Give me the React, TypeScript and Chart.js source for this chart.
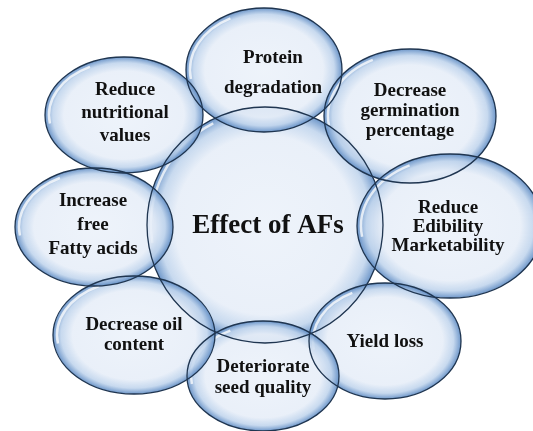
import React, { useEffect, useRef } from "react";
import { Chart, registerables } from "chart.js";

Chart.register(...registerables);

// Diagram data (in chart units: 0..533 horizontally, 0..431 vertically, top-down)
const labels = [
  "Effect of AFs",
  "Protein\ndegradation",
  "Decrease\ngermination\npercentage",
  "Reduce\nEdibility\nMarketability",
  "Yield loss",
  "Deteriorate\nseed quality",
  "Decrease oil\ncontent",
  "Increase\nfree\nFatty acids",
  "Reduce\nnutritional\nvalues",
];
const centerX = [265, 264, 410, 450, 385, 263, 134, 94, 124];
const centerY = [225, 70, 116, 226, 341, 376, 335, 227, 115];
const radiusX = [118, 78, 86, 93, 76, 76, 81, 79, 79];
const radiusY = [118, 62, 67, 72, 58, 55, 59, 59, 58];
const textX = [268, 273, 410, 448, 385, 263, 134, 93, 125];
const textY = [226, 73, 111, 227, 342, 378, 335, 225, 113];
const lineGap = [0, 30, 20, 19, 0, 21, 20, 24, 23];
const fontSizes = [27, 19, 19, 19, 19, 19, 19, 19, 19];

const bubblePlugin = {
  id: "bubbles",
  afterDatasetsDraw(chart: any) {
    const ctx = chart.ctx as CanvasRenderingContext2D;
    const xs = chart.scales.x;
    const ys = chart.scales.y;
    const geo = labels.map((_, i) => {
      const cx = xs.getPixelForValue(centerX[i]);
      const cy = ys.getPixelForValue(centerY[i]);
      const rx = Math.abs(xs.getPixelForValue(centerX[i] + radiusX[i]) - cx);
      const ry = Math.abs(ys.getPixelForValue(centerY[i] + radiusY[i]) - cy);
      return { cx, cy, rx, ry };
    });
    // fills
    geo.forEach(({ cx, cy, rx, ry }) => {
      ctx.save();
      ctx.translate(cx, cy);
      ctx.scale(rx, ry);
      const g = ctx.createRadialGradient(0, 0, 0, 0, 0, 1);
      g.addColorStop(0, "rgba(236,242,250,0.9)");
      g.addColorStop(0.76, "rgba(231,238,248,0.9)");
      g.addColorStop(0.9, "rgba(190,211,236,0.85)");
      g.addColorStop(1, "rgba(95,140,196,0.9)");
      ctx.beginPath();
      ctx.arc(0, 0, 1, 0, Math.PI * 2);
      ctx.fillStyle = g;
      ctx.fill();
      ctx.restore();
      // glossy highlight on upper-left inner rim
      ctx.save();
      ctx.beginPath();
      ctx.ellipse(cx, cy, rx - 4, ry - 4, 0, Math.PI * 0.95, Math.PI * 1.35);
      ctx.strokeStyle = "rgba(255,255,255,0.75)";
      ctx.lineWidth = 2.5;
      ctx.stroke();
      ctx.restore();
    });
    // outlines
    geo.forEach(({ cx, cy, rx, ry }) => {
      ctx.save();
      ctx.beginPath();
      ctx.ellipse(cx, cy, rx, ry, 0, 0, Math.PI * 2);
      ctx.strokeStyle = "#1f3550";
      ctx.lineWidth = 1.3;
      ctx.stroke();
      ctx.restore();
    });
    // text
    labels.forEach((lab, i) => {
      const lines = lab.split("\n");
      const tx = xs.getPixelForValue(textX[i]);
      const ty = ys.getPixelForValue(textY[i]);
      ctx.save();
      ctx.fillStyle = "#111111";
      ctx.font = `bold ${fontSizes[i]}px "Liberation Serif", "Times New Roman", serif`;
      ctx.textAlign = "center";
      ctx.textBaseline = "middle";
      const n = lines.length;
      lines.forEach((ln, k) => {
        ctx.fillText(ln, tx, ty + (k - (n - 1) / 2) * lineGap[i]);
      });
      ctx.restore();
    });
  },
};

export default function App() {
  const ref = useRef<HTMLCanvasElement | null>(null);
  useEffect(() => {
    if (!ref.current) return;
    const chart = new Chart(ref.current, {
      type: "scatter",
      data: {
        datasets: [
          {
            data: centerX.map((x, i) => ({ x, y: centerY[i] })),
            pointRadius: 0,
            pointHoverRadius: 0,
          },
        ],
      },
      options: {
        responsive: false,
        animation: false,
        devicePixelRatio: 1,
        layout: { padding: 0 },
        plugins: { legend: { display: false }, tooltip: { enabled: false } },
        scales: {
          x: { type: "linear", min: 0, max: 533, display: false },
          y: { type: "linear", min: 0, max: 431, reverse: true, display: false },
        },
      },
      plugins: [bubblePlugin],
    });
    return () => chart.destroy();
  }, []);
  return (
    <div style={{ position: "absolute", left: 0, top: 0, width: 533, height: 431, background: "#ffffff" }}>
      <canvas ref={ref} width={533} height={431} style={{ width: 533, height: 431 }} />
    </div>
  );
}
